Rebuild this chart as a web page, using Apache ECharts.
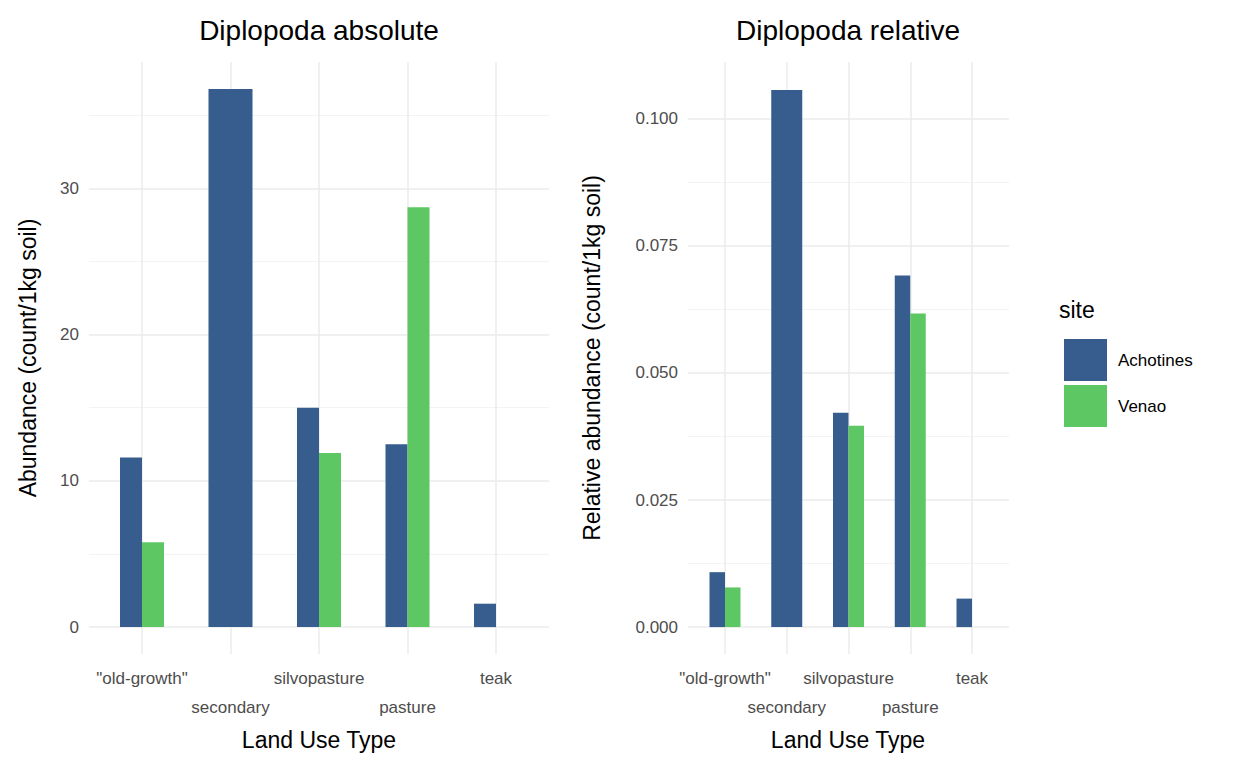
<!DOCTYPE html>
<html lang="en">
<head>
<meta charset="UTF-8">
<title>Diplopoda</title>
<script src="https://cdn.jsdelivr.net/npm/echarts@6.0.0/dist/echarts.min.js"></script>
<style>body{margin:0;background:#fff}</style>
</head>
<body>
<div id="chart" style="width:1248px;height:768px;"></div>
<script>
const categories = ['"old-growth"', 'secondary', 'silvopasture', 'pasture', 'teak'];
// secondary only has Achotines -> drawn full-width as its own series
const absAchotines = [11.6, null, 15.0, 12.5, 1.6];
const absVenao = [5.8, null, 11.9, 28.7, 0];
const absSecondary = [null, 36.8, null, null, null];
const relAchotines = [0.0108, null, 0.0422, 0.0692, 0.0056];
const relVenao = [0.0078, null, 0.0396, 0.0617, 0];
const relSecondary = [null, 0.1057, null, null, null];
const absTicks = [0, 10, 20, 30], absMinor = [5, 15, 25, 35];
const relTicks = [0, 0.025, 0.05, 0.075, 0.1], relMinor = [0.0125, 0.0375, 0.0625, 0.0875];

const C_A = '#365D8D', C_V = '#5DC863';
const font = 'Liberation Sans, Arial, sans-serif';
const chart = echarts.init(document.getElementById('chart'), null, { renderer: 'svg' });

const panels = [
  { bgLeft: 89, bgW: 460, cLeft: 142, cW: 354, bw: 22, min: -1.84, max: 38.64,
    ticks: absTicks, minor: absMinor, fmt: v => String(v),
    a: absAchotines, v: absVenao, s: absSecondary },
  { bgLeft: 688, bgW: 321, cLeft: 725, cW: 247, bw: 15.5, min: -0.0053, max: 0.1112,
    ticks: relTicks, minor: relMinor, fmt: v => v.toFixed(3),
    a: relAchotines, v: relVenao, s: relSecondary }
];

const grid = [], xAxis = [], yAxis = [], series = [];
panels.forEach((p, i) => {
  const g = grid.length;
  grid.push({ left: p.bgLeft, top: 62, width: p.bgW, height: 592 });
  grid.push({ left: p.cLeft, top: 62, width: p.cW, height: 592 });
  xAxis.push({ gridIndex: g, type: 'value', min: 0, max: 1, show: false });
  yAxis.push({ gridIndex: g, type: 'value', position: 'left', min: p.min, max: p.max,
    axisLine: { show: false },
    axisTick: { show: false, customValues: p.minor },
    axisLabel: { show: false },
    splitLine: { lineStyle: { color: '#f3f3f3', width: 1 } } });
  yAxis.push({ gridIndex: g, type: 'value', position: 'left', min: p.min, max: p.max,
    axisLine: { show: false },
    axisTick: { show: false, customValues: p.ticks },
    axisLabel: { customValues: p.ticks, formatter: p.fmt, color: '#4d4d4d', fontSize: 17, fontFamily: font, margin: 10 },
    splitLine: { lineStyle: { color: '#ebebeb', width: 1.5 } } });
  const xi = xAxis.length;
  xAxis.push({ gridIndex: g + 1, type: 'category', data: categories, boundaryGap: false,
    axisLine: { show: false }, axisTick: { show: false },
    axisLabel: { color: '#4d4d4d', fontSize: 17, fontFamily: font, margin: 10, lineHeight: 29, interval: 0,
      formatter: (val, idx) => idx % 2 ? '\n' + val : val },
    splitLine: { show: true, lineStyle: { color: '#ebebeb', width: 1.5 } } });
  xAxis.push({ gridIndex: g + 1, type: 'category', data: categories, boundaryGap: false, show: false });
  const yi = yAxis.length;
  yAxis.push({ gridIndex: g + 1, type: 'value', position: 'left', min: p.min, max: p.max, show: false, splitLine: { show: false } });
  const base = { type: 'bar', xAxisIndex: xi, yAxisIndex: yi, barGap: '0%', barWidth: p.bw, silent: true };
  series.push(Object.assign({}, base, { name: 'Achotines', data: p.a, itemStyle: { color: C_A } }));
  series.push(Object.assign({}, base, { name: 'Venao', data: p.v, itemStyle: { color: C_V } }));
  series.push(Object.assign({}, base, { name: 'Achotines', xAxisIndex: xi + 1, barWidth: p.bw * 2, data: p.s, itemStyle: { color: C_A } }));
});

const txt = (x, y, s, size, rot) => ({ type: 'text', x, y, rotation: rot || 0,
  style: { text: s, fontSize: size, fontFamily: font, fill: '#000', align: 'center', verticalAlign: 'middle' } });

chart.setOption({
  animation: false,
  grid, xAxis, yAxis, series,
  legend: { data: ['Achotines', 'Venao'], orient: 'vertical', left: 1059, top: 334,
    itemWidth: 43, itemHeight: 42, itemGap: 4, icon: 'rect',
    textStyle: { fontSize: 17, fontFamily: font, color: '#000', padding: [0, 0, 0, 6] } },
  graphic: [
    txt(319, 30, 'Diplopoda absolute', 28),
    txt(848, 30, 'Diplopoda relative', 28),
    txt(319, 740, 'Land Use Type', 23),
    txt(848, 740, 'Land Use Type', 23),
    txt(28, 358, 'Abundance (count/1kg soil)', 23, Math.PI / 2),
    txt(592, 358, 'Relative abundance (count/1kg soil)', 23, Math.PI / 2),
    { type: 'text', x: 1059, y: 310, style: { text: 'site', fontSize: 23, fontFamily: font, fill: '#000', verticalAlign: 'middle' } }
  ]
});
</script>
</body>
</html>
